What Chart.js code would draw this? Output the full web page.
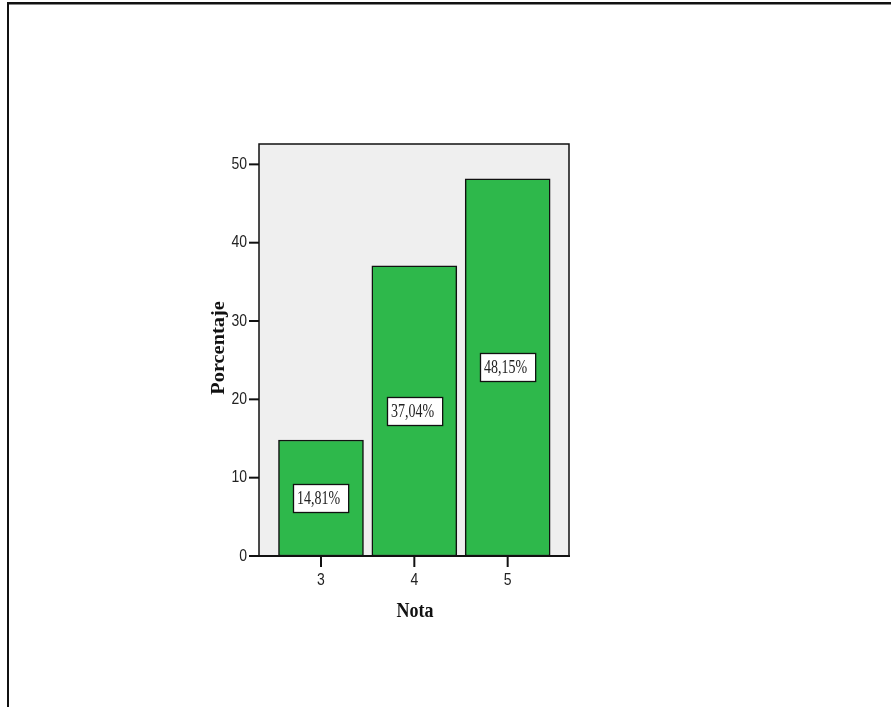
<!DOCTYPE html>
<html>
<head>
<meta charset="utf-8">
<script src="https://cdn.jsdelivr.net/npm/chart.js@4.4.1/dist/chart.umd.min.js"></script>
<style>
  html, body { margin: 0; padding: 0; background: #fff; }
  #grafico { display: block; }
</style>
</head>
<body>
<canvas id="grafico" width="891" height="707"></canvas>
<script>
// Datos del gráfico
const notas = [3, 4, 5];
const porcentajes = [14.81, 37.04, 48.15];
const etiquetas = ['14,81%', '37,04%', '48,15%'];
const ticksY = [0, 10, 20, 30, 40, 50];
const tituloX = 'Nota';
const tituloY = 'Porcentaje';

// Estirado vertical del texto (la imagen original está algo alargada)
const ESTIRADO = 1.22;

function textoEstirado(ctx, txt, x, y, sx, sy) {
    ctx.save();
    ctx.translate(x, y);
    ctx.scale(sx, sy);
    ctx.fillText(txt, 0, 0);
    ctx.restore();
}

// Plugin para el fondo, marco, marcas y textos
const estiloSpss = {
    id: 'estiloSpss',
    beforeDatasetsDraw(chart) {
        const { ctx, chartArea: a } = chart;
        ctx.save();
        // marco exterior
        ctx.fillStyle = '#111';
        ctx.fillRect(7, 2, 884, 2.5);
        ctx.fillRect(7, 2, 2, 705);
        // fondo del área de trazado
        ctx.fillStyle = '#efefef';
        ctx.fillRect(a.left, a.top, a.right - a.left, a.bottom - a.top);
        ctx.restore();
    },
    afterDatasetsDraw(chart) {
        const { ctx, chartArea: a, scales } = chart;
        const x = scales.x, y = scales.y;
        ctx.save();
        // bordes del área
        ctx.strokeStyle = '#111';
        ctx.lineWidth = 1.5;
        ctx.beginPath();
        ctx.moveTo(a.left, a.bottom);
        ctx.lineTo(a.left, a.top);
        ctx.lineTo(a.right, a.top);
        ctx.lineTo(a.right, a.bottom);
        ctx.stroke();
        ctx.lineWidth = 2.2;
        ctx.beginPath();
        ctx.moveTo(a.left - 1, a.bottom);
        ctx.lineTo(a.right + 1, a.bottom);
        ctx.stroke();

        // marcas y etiquetas del eje Y
        ctx.fillStyle = '#222';
        ctx.font = '14px "Liberation Sans", Arial, sans-serif';
        ctx.textAlign = 'right';
        ctx.textBaseline = 'middle';
        ticksY.forEach(v => {
            const py = y.getPixelForValue(v);
            ctx.lineWidth = 2;
            ctx.beginPath();
            ctx.moveTo(a.left - 10, py);
            ctx.lineTo(a.left, py);
            ctx.stroke();
            textoEstirado(ctx, String(v), a.left - 12, py, 1, ESTIRADO);
        });

        // marcas y etiquetas del eje X
        ctx.textAlign = 'center';
        notas.forEach(n => {
            const px = x.getPixelForValue(n);
            ctx.lineWidth = 2;
            ctx.beginPath();
            ctx.moveTo(px, a.bottom);
            ctx.lineTo(px, a.bottom + 11);
            ctx.stroke();
            textoEstirado(ctx, String(n), px, a.bottom + 24, 1, ESTIRADO);
        });

        // etiquetas de valor dentro de las barras
        ctx.font = '14px "Liberation Serif", "Times New Roman", serif';
        ctx.textAlign = 'left';
        ctx.textBaseline = 'middle';
        porcentajes.forEach((v, i) => {
            const cx = x.getPixelForValue(notas[i]);
            const cy = y.getPixelForValue(v / 2);
            const w = ctx.measureText(etiquetas[i]).width + 12;
            const h = 28;
            const bx = Math.round(cx - w / 2) + 0.5;
            const by = Math.round(cy - h / 2) + 0.5;
            ctx.fillStyle = '#fff';
            ctx.fillRect(bx, by, w, h);
            ctx.strokeStyle = '#111';
            ctx.lineWidth = 1.3;
            ctx.strokeRect(bx, by, w, h);
            ctx.fillStyle = '#222';
            textoEstirado(ctx, etiquetas[i], bx + 3.5, cy + 1, 1, 1.3);
        });

        // títulos de los ejes
        ctx.fillStyle = '#111';
        ctx.font = 'bold 18px "Liberation Serif", "Times New Roman", serif';
        ctx.textAlign = 'center';
        ctx.textBaseline = 'alphabetic';
        textoEstirado(ctx, tituloX, (a.left + a.right) / 2 + 1, 616.5, 1, ESTIRADO);

        ctx.save();
        ctx.translate(224, (a.top + a.bottom) / 2 - 2);
        ctx.rotate(-Math.PI / 2);
        ctx.scale(1.13, 1);
        ctx.fillText(tituloY, 0, 0);
        ctx.restore();

        ctx.restore();
    }
};

const ctx = document.getElementById('grafico').getContext('2d');
new Chart(ctx, {
    type: 'bar',
    data: {
        datasets: [{
            data: notas.map((n, i) => ({ x: n, y: porcentajes[i] })),
            backgroundColor: '#2eb84b',
            borderColor: '#111',
            borderWidth: 1.5,
            borderSkipped: false,
            barThickness: 85
        }]
    },
    options: {
        responsive: false,
        animation: false,
        events: [],
        layout: { padding: { left: 259, top: 144, right: 322, bottom: 151 } },
        plugins: {
            legend: { display: false },
            tooltip: { enabled: false }
        },
        scales: {
            x: { type: 'linear', display: false, offset: false, min: 2.336, max: 5.657 },
            y: { display: false, min: 0, max: 52.6 }
        }
    },
    plugins: [estiloSpss]
});
</script>
</body>
</html>
